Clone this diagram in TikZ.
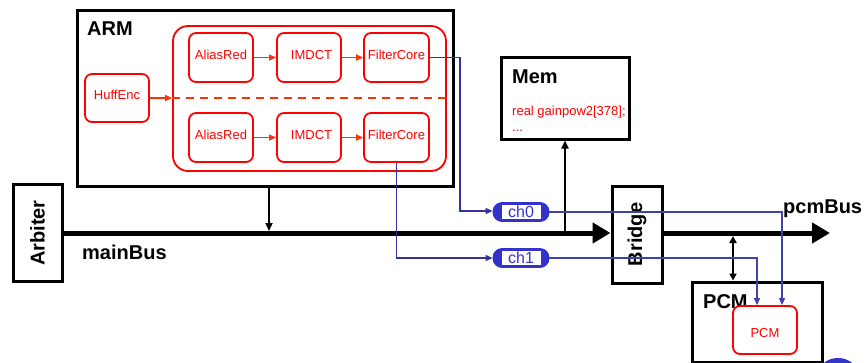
\documentclass[tikz,border=0pt]{standalone}
\usepackage{fontspec}
\setmainfont{Liberation Sans}
\usetikzlibrary{arrows.meta}
\definecolor{boxred}{HTML}{FF0000}
\definecolor{arrred}{HTML}{FF3300}
\definecolor{chnavy}{HTML}{333399}
\definecolor{chline}{HTML}{4040B0}
\definecolor{chfill}{HTML}{3333CC}
\begin{document}
\begin{tikzpicture}[x=1pt,y=-1pt,
  box/.style={draw=black,line width=3pt,inner sep=0pt},
  rbox/.style={draw=boxred,line width=1.8pt,rounded corners=7pt,inner sep=0pt,text=boxred,
    font=\fontsize{13}{15}\selectfont,minimum width=64pt,minimum height=49pt},
  rboxup/.style={rbox,text height=9.5pt,text depth=6pt},
  big/.style={font=\bfseries\fontsize{20}{22}\selectfont,inner sep=0pt},
  redtxt/.style={text=boxred,font=\fontsize{13}{15}\selectfont,inner sep=0pt},
  redarr/.style={draw=arrred,line width=1.3pt,-{Triangle[length=7pt,width=6pt]}},
  bluearr/.style={draw=chnavy,line width=1.3pt,-{Triangle[length=7pt,width=6pt]}},
  bluearrb/.style={draw=chline,line width=1.1pt,-{Triangle[length=7pt,width=6pt]}},
  blkarr/.style={draw=black,line width=1.9pt,-{Triangle[length=8pt,width=7pt]}},
  busline/.style={draw=black,line width=5pt,-{Triangle[length=18pt,width=20pt]}},
  chcap/.style={draw=chfill,fill=chfill,rounded corners=9pt,minimum width=56pt,minimum height=19pt,inner sep=0pt,line width=0.8pt},
  chtxt/.style={draw=chfill,fill=white,minimum width=40pt,minimum height=15pt,inner sep=0pt,text=chfill,font=\fontsize{16}{18}\selectfont,line width=0.8pt}
]
\useasboundingbox (0,0) rectangle (868,362);

% ARM
\node[box,minimum width=376pt,minimum height=176pt] (ARM) at (265,98) {};
\node[big,anchor=base west] (ARMl) at (87,35) {ARM};
\node[draw=boxred,line width=1.8pt,rounded corners=15pt,minimum width=273pt,minimum height=145pt,inner sep=0pt] (grp) at (309.5,98.5) {};
\node[rboxup,minimum height=48pt] (HE) at (117,98) {HuffEnc};
\node[rboxup] (AR1) at (221,57.5) {AliasRed};
\node[rboxup] (IM1) at (309,57.5) {\hspace*{5pt}IMDCT};
\node[rboxup,minimum width=65pt] (FC1) at (396.5,57.5) {FilterCore};
\node[rboxup] (AR2) at (221,137.5) {AliasRed};
\node[rboxup] (IM2) at (309,137.5) {\hspace*{5pt}IMDCT};
\node[rboxup,minimum width=65pt] (FC2) at (396.5,137.5) {FilterCore};
\draw[redarr] (HE.east) -- (HE.east -| grp.west);
\draw[arrred,line width=1.6pt,dash pattern=on 8pt off 6pt] (HE.east -| grp.west) -- (HE.east -| grp.east);
\draw[redarr] (AR1) -- (IM1);
\draw[redarr] (IM1) -- (FC1);
\draw[redarr] (AR2) -- (IM2);
\draw[redarr] (IM2) -- (FC2);

% Mem
\node[box,minimum width=128pt,minimum height=82pt] (Mem) at (565,98) {};
\node[big,anchor=base west] (Meml) at (512,83) {Mem};
\node[redtxt,anchor=base west] (Memt1) at (512,115) {real gainpow2[378];};
\node[redtxt,anchor=base west] (Memt2) at (512,131) {...};

% Arbiter and Bridge
\node[box,minimum width=49pt,minimum height=97pt] (Arb) at (37.5,233) {};
\node[big,rotate=90] (Arbl) at (Arb.center) {Arbiter};
\node[box,minimum width=50pt,minimum height=97pt] (Br) at (637,234.5) {};
\node[big,rotate=90] (Brl) at (Br.center) {Bridge};

% buses
\coordinate (pcmend) at (830,233);
\draw[busline] (Arb.east) -- (Arb.east -| Br.west);
\draw[busline] (Br.east |- pcmend) -- (pcmend);
\node[big,anchor=base west] (mainl) at (82,259) {mainBus};
\node[big,anchor=base west] (pcml) at (783,213) {pcmBus};

\coordinate (armtap) at (269,231);
\draw[blkarr] (armtap |- ARM.south) -- (armtap);
\coordinate (memtap) at (565,231);
\draw[blkarr] (memtap) -- (memtap |- Mem.south);

% PCM
\node[box,minimum width=130pt,minimum height=80pt] (PCMo) at (757,322) {};
\node[big,anchor=base west] (PCMl) at (703,308) {PCM};
\node[rbox,fill=white,minimum height=48pt,text height=9.5pt,text depth=0pt,yshift=0pt] (PCMi) at (765,330) {\raisebox{-3pt}{PCM}};
\coordinate (pcmtap) at (733,236);
\draw[draw=black,line width=1.9pt,{Triangle[length=7pt,width=7pt]}-{Triangle[length=7pt,width=7pt]}] (pcmtap) -- (pcmtap |- PCMo.north);

% partial shape at bottom right
\fill[chfill] (838,373) ellipse (19pt and 15pt);

% channels
\node[chcap] (ch0) at (521,212) {};
\node[chtxt] (ch0t) at (ch0) {ch0};
\node[chcap] (ch1) at (521,258) {};
\node[chtxt] (ch1t) at (ch1) {ch1};

\coordinate (b0) at (460,211);
\draw[bluearr] (FC1.east) -| (b0) -- (b0 -| ch0.west);
\draw[bluearr] (FC2.south) |- (ch1.west);
\draw[bluearrb] (ch0.east) -| ([xshift=17pt]PCMi.north);
\draw[bluearrb] (ch1.east) -| ([xshift=-8pt]PCMi.north);
\end{tikzpicture}
\end{document}
